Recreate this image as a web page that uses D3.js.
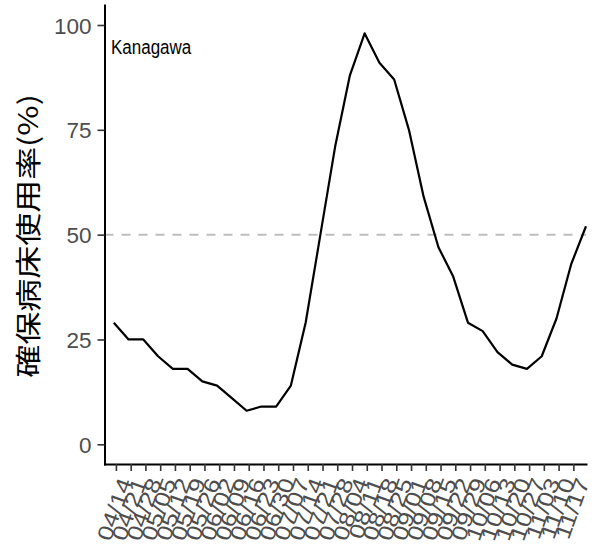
<!DOCTYPE html>
<html><head><meta charset="utf-8">
<script src="https://cdn.jsdelivr.net/npm/d3@7"></script>
<style>body{margin:0;background:#fff}svg{display:block}</style>
</head><body><svg id="c" width="596" height="548"></svg>
<script>
const region = "Kanagawa";
const yTitle = "確保病床使用率(%)";
const dates = ["2022-04-13","2022-04-20","2022-04-27","2022-05-04","2022-05-11","2022-05-18","2022-05-25",
  "2022-06-01","2022-06-08","2022-06-15","2022-06-22","2022-06-29","2022-07-06","2022-07-13","2022-07-20",
  "2022-07-27","2022-08-03","2022-08-10","2022-08-17","2022-08-24","2022-08-31","2022-09-07","2022-09-14",
  "2022-09-21","2022-09-28","2022-10-05","2022-10-12","2022-10-19","2022-10-26","2022-11-02","2022-11-09",
  "2022-11-16","2022-11-23"];
const values = [29,25,25,21,18,18,15,14,11,8,9,9,14,29,50,71,88,98,91,87,75,59,47,40,29,27,22,19,18,21,30,43,52];
const tickDates = ["2022-04-14","2022-04-21","2022-04-28","2022-05-05","2022-05-12","2022-05-19","2022-05-26",
  "2022-06-02","2022-06-09","2022-06-16","2022-06-23","2022-06-30","2022-07-07","2022-07-14","2022-07-21",
  "2022-07-28","2022-08-04","2022-08-11","2022-08-18","2022-08-25","2022-09-01","2022-09-08","2022-09-15",
  "2022-09-22","2022-09-29","2022-10-06","2022-10-13","2022-10-20","2022-10-27","2022-11-03","2022-11-10","2022-11-17"];
const yTicks = [0,25,50,75,100];
const refLine = 50;

const parse = d3.timeParse("%Y-%m-%d");
const fmt = d3.timeFormat("%m/%d");
const data = dates.map((d,i)=>({date:parse(d), value:values[i]}));

const svg = d3.select("#c");
svg.append("rect").attr("width",596).attr("height",548).attr("fill","#fff");

const x = d3.scaleTime()
  .domain([new Date(2022,3,8,14), new Date(2022,10,23)])
  .range([104.5, 586]);
const y = d3.scaleLinear().domain([-4.7, 104.77]).range([464, 5]);

// reference dashed line
svg.append("line")
  .attr("x1", x.range()[0]).attr("x2", x.range()[1])
  .attr("y1", y(refLine)).attr("y2", y(refLine))
  .attr("stroke","#BEBEBE").attr("stroke-width",2).attr("stroke-dasharray","9,8");

// line
svg.append("path").datum(data)
  .attr("fill","none").attr("stroke","#000").attr("stroke-width",2.2)
  .attr("stroke-linejoin","round")
  .attr("d", d3.line().x(d=>x(d.date)).y(d=>y(d.value)));

// y axis
const gy = svg.append("g").attr("transform","translate(104.5,0)")
  .call(d3.axisLeft(y).tickValues(yTicks).tickSize(7).tickPadding(6).tickSizeOuter(0));
gy.select(".domain").attr("stroke","#000").attr("stroke-width",2).attr("stroke-linecap","square");
gy.selectAll(".tick line").attr("stroke","#333").attr("stroke-width",1.6);
gy.selectAll(".tick text").attr("fill","#4D4D4D").style("font-family","Liberation Sans, Arial, sans-serif")
  .style("font-size","22.5px").attr("dy","0.36em");

// x axis
const gx = svg.append("g").attr("transform","translate(0,464)")
  .call(d3.axisBottom(x).tickValues(tickDates.map(parse)).tickFormat(fmt).tickSize(7).tickSizeOuter(0));
gx.select(".domain").attr("stroke","#000").attr("stroke-width",2).attr("stroke-linecap","square");
gx.selectAll(".tick line").attr("stroke","#333").attr("stroke-width",1.6);
gx.selectAll(".tick text").attr("fill","#4D4D4D").style("font-family","Liberation Sans, Arial, sans-serif")
  .style("font-size","21.5px").attr("text-anchor","end").attr("y",0).attr("x",0).attr("dy","0.35em")
  .attr("transform","translate(9,15) rotate(-70) scale(1.2,1)");

// region label
svg.append("text").text(region).attr("transform","translate(111,54) scale(1,1.15)")
  .style("font-family","Liberation Sans, Arial, sans-serif").style("font-size","17px").attr("fill","#000");

// y title
svg.append("text").text(yTitle)
  .attr("transform","translate(38,236) rotate(-90) scale(1,0.8)")
  .attr("text-anchor","middle")
  .style("font-family","Noto Sans CJK JP, sans-serif").style("font-size","33px").attr("fill","#000");
</script></body></html>
